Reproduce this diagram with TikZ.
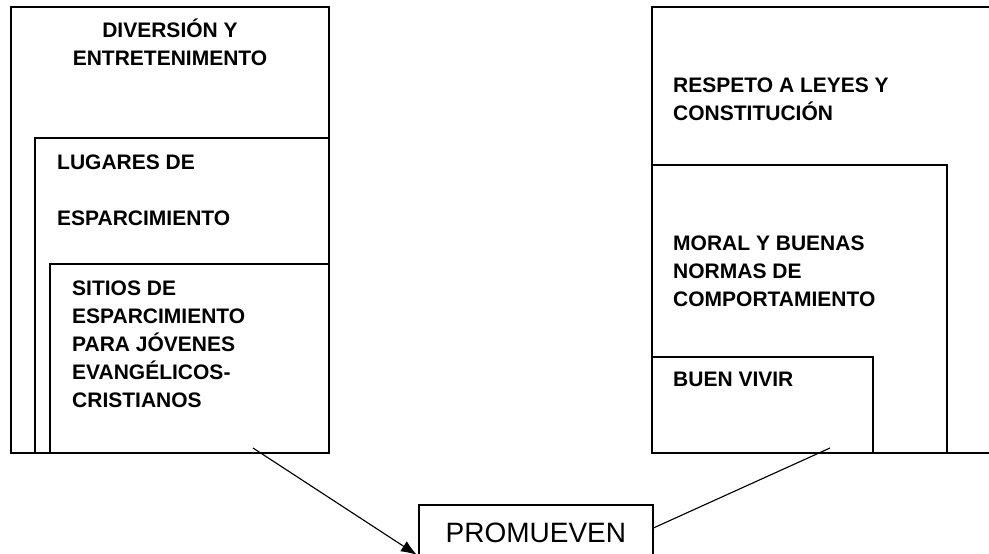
\documentclass[tikz,border=0pt]{standalone}
\usepackage{fontspec}
\setmainfont{Liberation Sans}
\usetikzlibrary{arrows.meta}

\begin{document}
\begin{tikzpicture}[x=1pt, y=-1pt,
		caja/.style={line width=0.6mm},
		enlace/.style={line width=0.4mm},
		rotulo/.style={font=\bfseries\fontsize{21}{28}\selectfont, anchor=base west, align=left, inner sep=0pt}]
		%%%%% START %%%%%
		\useasboundingbox (0, 0) rectangle (989, 554);
		\clip (0, 0) rectangle (989, 554);
		
		% izquierda
		\draw[caja] (11, 7) rectangle (329, 453);
		\draw[caja] (35, 138) rectangle (329, 453);
		\draw[caja] (50, 264) rectangle (329, 453);
		
		\node[rotulo, anchor=base, align=center] (diversion) at (170, 65) {DIVERSIÓN Y\\ENTRETENIMENTO};
		\node[rotulo] (lugares) at (57, 225) {LUGARES DE\\[28pt]ESPARCIMIENTO};
		\node[rotulo] (sitios) at (72, 407) {SITIOS DE\\ESPARCIMIENTO\\PARA JÓVENES\\EVANGÉLICOS-\\CRISTIANOS};
		
		% derecha
		\draw[caja] (652, 7) rectangle (1000, 453);
		\draw[caja] (652, 165) rectangle (947, 453);
		\draw[caja] (652, 357) rectangle (873, 453);
		
		\node[rotulo] (respeto) at (673, 120) {RESPETO A LEYES Y\\CONSTITUCIÓN};
		\node[rotulo] (moral) at (673, 306) {MORAL Y BUENAS\\NORMAS DE\\COMPORTAMIENTO};
		\node[rotulo] (buenvivir) at (673, 386) {BUEN VIVIR};
		
		% abajo
		\node[caja, draw, anchor=north west, minimum width=234pt, minimum height=56pt, inner sep=0pt, font=\fontsize{28}{34}\selectfont] (promueven) at (418, 504) {PROMUEVEN};
		
		\coordinate (sitiosSal) at (253, 448);
		\coordinate (puntaFlecha) at (417, 555);
		\coordinate (buenSal) at (830, 448);
		
		\draw[enlace, -{Latex[length=16pt, width=12pt]}] (sitiosSal) -- (puntaFlecha);
		\draw[enlace] (buenSal) -- ([yshift=5pt]promueven.east);
		
		%%%%% END %%%%%
\end{tikzpicture}
\end{document}
